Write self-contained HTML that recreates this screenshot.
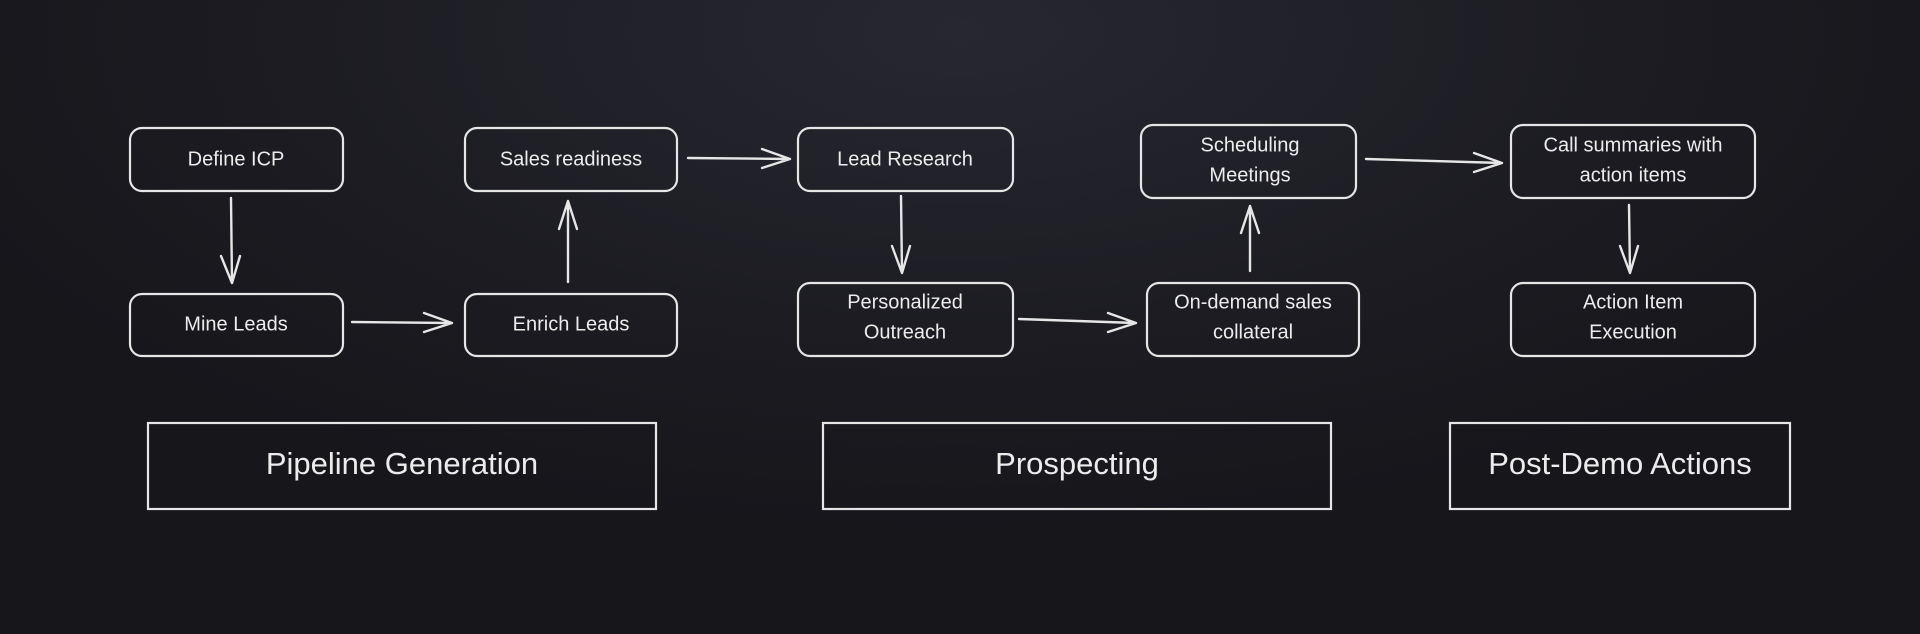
<!DOCTYPE html>
<html><head><meta charset="utf-8"><style>
html,body{margin:0;padding:0;}
body{width:1920px;height:634px;overflow:hidden;background:radial-gradient(ellipse 1100px 500px at 50% 5%,#272731 0%,#1c1c22 60%,#16161b 100%);}
svg{display:block}
text{font-family:"Liberation Sans","DejaVu Sans",sans-serif;fill:#ececec;text-anchor:middle;dominant-baseline:middle}
.n{font-size:20px}
.t{font-size:31px}
rect{fill:none;stroke:#e6e6e6;stroke-width:2.2}
.a{fill:none;stroke:#e6e6e6;stroke-width:2.4;stroke-linecap:round;stroke-linejoin:round}
</style></head><body>
<svg width="1920" height="634" viewBox="0 0 1920 634">
<rect x="130" y="128" width="213" height="63" rx="12"/>
<text class="n" x="236" y="160">Define ICP</text>
<rect x="130" y="294" width="213" height="62" rx="12"/>
<text class="n" x="236" y="325">Mine Leads</text>
<rect x="465" y="128" width="212" height="63" rx="12"/>
<text class="n" x="571" y="160">Sales readiness</text>
<rect x="465" y="294" width="212" height="62" rx="12"/>
<text class="n" x="571" y="325">Enrich Leads</text>
<rect x="798" y="128" width="215" height="63" rx="12"/>
<text class="n" x="905" y="160">Lead Research</text>
<rect x="798" y="283" width="215" height="73" rx="12"/>
<text class="n" x="905" y="303">Personalized</text>
<text class="n" x="905" y="333">Outreach</text>
<rect x="1141" y="125" width="215" height="73" rx="12"/>
<text class="n" x="1250" y="146">Scheduling</text>
<text class="n" x="1250" y="176">Meetings</text>
<rect x="1147" y="283" width="212" height="73" rx="12"/>
<text class="n" x="1253" y="303">On-demand sales</text>
<text class="n" x="1253" y="333">collateral</text>
<rect x="1511" y="125" width="244" height="73" rx="12"/>
<text class="n" x="1633" y="146">Call summaries with</text>
<text class="n" x="1633" y="176">action items</text>
<rect x="1511" y="283" width="244" height="73" rx="12"/>
<text class="n" x="1633" y="303">Action Item</text>
<text class="n" x="1633" y="333">Execution</text>

<rect x="148" y="423" width="508" height="86"/>
<text class="t" x="402" y="466">Pipeline Generation</text>
<rect x="823" y="423" width="508" height="86"/>
<text class="t" x="1077" y="466">Prospecting</text>
<rect x="1450" y="423" width="340" height="86"/>
<text class="t" x="1620" y="466">Post-Demo Actions</text>

<path class="a" d="M231 198 L232 283 M221 256 L232 283 L240 256"/>
<path class="a" d="M352 322 L452 323 M424 313 L452 323 L424 332"/>
<path class="a" d="M568 282 L568 201 M559 229 L568 201 L577 229"/>
<path class="a" d="M688 158 L790 159 M762 149 L790 159 L762 168"/>
<path class="a" d="M901 196 L902 273 M892 246 L902 273 L910 246"/>
<path class="a" d="M1019 319 L1136 323 M1108 313 L1136 323 L1108 332"/>
<path class="a" d="M1250 271 L1250 206 M1241 233 L1250 206 L1259 233"/>
<path class="a" d="M1366 159 L1502 163 M1474 153 L1502 163 L1474 172"/>
<path class="a" d="M1629 205 L1630 273 M1620 246 L1630 273 L1638 246"/>
</svg>
</body></html>
